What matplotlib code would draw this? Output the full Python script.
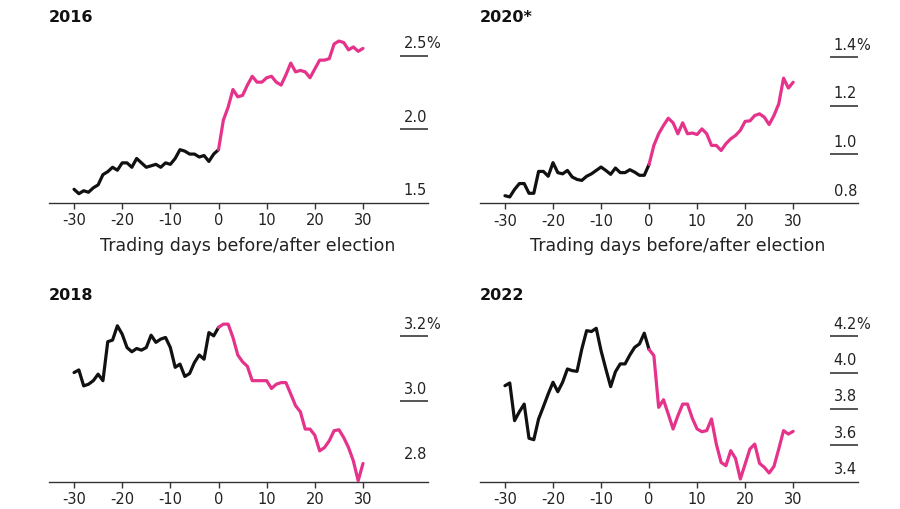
import matplotlib
matplotlib.use("Agg")
import matplotlib.pyplot as plt

# 選挙前後の取引日
days = list(range(-30, 31))

# 2016
y2016 = [1.59, 1.56, 1.58, 1.57, 1.60, 1.62, 1.69, 1.71, 1.74, 1.72,
         1.77, 1.77, 1.74, 1.80, 1.77, 1.74, 1.75, 1.76, 1.74, 1.77,
         1.76, 1.80, 1.86, 1.85, 1.83, 1.83, 1.81, 1.82, 1.78, 1.83,
         1.86,
         2.06, 2.15, 2.27, 2.22, 2.23, 2.30, 2.36, 2.32, 2.32, 2.35,
         2.36, 2.32, 2.30, 2.37, 2.45, 2.39, 2.40, 2.39, 2.35, 2.41,
         2.47, 2.47, 2.48, 2.58, 2.60, 2.59, 2.54, 2.56, 2.53, 2.55]

# 2020
y2020 = [0.830, 0.825, 0.856, 0.880, 0.880, 0.840, 0.840, 0.930, 0.930, 0.910,
         0.966, 0.925, 0.920, 0.934, 0.907, 0.897, 0.893, 0.910, 0.920, 0.934,
         0.948, 0.934, 0.918, 0.944, 0.925, 0.925, 0.937, 0.927, 0.914, 0.914,
         0.959,
         1.037, 1.085, 1.119, 1.149, 1.130, 1.085, 1.130, 1.085, 1.088, 1.082,
         1.105, 1.085, 1.037, 1.037, 1.016, 1.044, 1.064, 1.078, 1.099, 1.136,
         1.138, 1.160, 1.167, 1.153, 1.123, 1.160, 1.208, 1.314, 1.273, 1.297]

# 2018
y2018 = [3.089, 3.097, 3.048, 3.053, 3.064, 3.084, 3.064, 3.184, 3.189, 3.233,
         3.207, 3.166, 3.153, 3.163, 3.158, 3.166, 3.204, 3.182, 3.192, 3.197,
         3.166, 3.105, 3.115, 3.077, 3.086, 3.120, 3.143, 3.130, 3.212, 3.202,
         3.228,
         3.238, 3.238, 3.197, 3.143, 3.122, 3.108, 3.064, 3.064, 3.064, 3.064,
         3.040, 3.053, 3.058, 3.058, 3.023, 2.987, 2.968, 2.915, 2.915, 2.896,
         2.848, 2.858, 2.879, 2.910, 2.913, 2.889, 2.858, 2.817, 2.756, 2.809]

# 2022
y2022 = [3.928, 3.943, 3.736, 3.785, 3.827, 3.639, 3.631, 3.745, 3.813, 3.883,
         3.947, 3.895, 3.947, 4.020, 4.011, 4.007, 4.130, 4.231, 4.226, 4.244,
         4.121, 4.020, 3.923, 4.005, 4.048, 4.048, 4.097, 4.139, 4.158, 4.217,
         4.127,
         4.094, 3.809, 3.851, 3.772, 3.690, 3.763, 3.827, 3.827, 3.749, 3.690,
         3.675, 3.681, 3.745, 3.607, 3.506, 3.488, 3.571, 3.528, 3.415, 3.497,
         3.580, 3.607, 3.501, 3.479, 3.448, 3.484, 3.580, 3.681, 3.662, 3.677]

xticks = [-30, -20, -10, 0, 10, 20, 30]

BLACK = "#111111"
PINK = "#E5338C"
TXT = "#222222"

plt.rcParams["font.family"] = ["DejaVu Sans"]

W, H = 900, 510
fig = plt.figure(figsize=(W / 100, H / 100), dpi=100)


def panel(box, title, y, yticks, ylim, xlabel):
    left, top, right, bottom = box
    ax = fig.add_axes([left / W, 1 - bottom / H, (right - left) / W, (bottom - top) / H])
    i0 = days.index(0)
    ax.plot(days[:i0 + 1], y[:i0 + 1], color=BLACK, lw=2.3,
            solid_joinstyle="round", solid_capstyle="round", zorder=3)
    ax.plot(days[i0:], y[i0:], color=PINK, lw=2.3,
            solid_joinstyle="round", solid_capstyle="round", zorder=3)
    ax.set_xlim(-35.2, 43.5)
    ax.set_ylim(*ylim)
    for s in ["top", "left", "right"]:
        ax.spines[s].set_visible(False)
    ax.spines["bottom"].set_color("#333333")
    ax.spines["bottom"].set_linewidth(1.0)
    ax.set_xticks(xticks)
    ax.set_xticklabels([str(t) for t in xticks], fontsize=10.5, color=TXT)
    ax.tick_params(axis="x", length=4, width=1, color="#333333", pad=3)
    ax.set_yticks([])
    frac = 28 / (right - left)
    # 右側の短い目盛り線 (最下段は軸と重なるので描かない)
    ax.hlines(yticks[1:], 1 - frac, 1, transform=ax.get_yaxis_transform(),
              color="#555555", lw=1.4, clip_on=False)
    for k, v in enumerate(yticks):
        ax.annotate(f"{v:.1f}", xy=(1, v), xycoords=ax.get_yaxis_transform(),
                    xytext=(-1, 13), textcoords="offset pixels",
                    ha="right", va="center", fontsize=10.5, color=TXT)
        if k == len(yticks) - 1:
            ax.annotate("%", xy=(1, v), xycoords=ax.get_yaxis_transform(),
                        xytext=(-2, 13), textcoords="offset pixels",
                        ha="left", va="center", fontsize=10.5, color=TXT)
    if xlabel:
        ax.set_xlabel("Trading days before/after election", fontsize=12.5,
                      color=TXT, labelpad=6)
        ax.xaxis.label.set_x(0.524)
    fig.text(left / W, 1 - (top - 23) / H, title, fontsize=11.5,
             fontweight="bold", color="#111111", ha="left", va="center")
    return ax


panel((49, 40, 428, 203.5), "2016", y2016, [1.5, 2.0, 2.5], (1.5, 2.614), True)
panel((480, 40, 858, 204), "2020*", y2020, [0.8, 1.0, 1.2, 1.4], (0.8, 1.475), True)
panel((49, 318, 428, 482.7), "2018", y2018, [2.8, 3.0, 3.2], (2.753, 3.26), False)
panel((480, 318, 858, 482.7), "2022", y2022, [3.4, 3.6, 3.8, 4.0, 4.2], (3.4, 4.306), False)

fig.savefig("out.png", dpi=100, facecolor="white")
